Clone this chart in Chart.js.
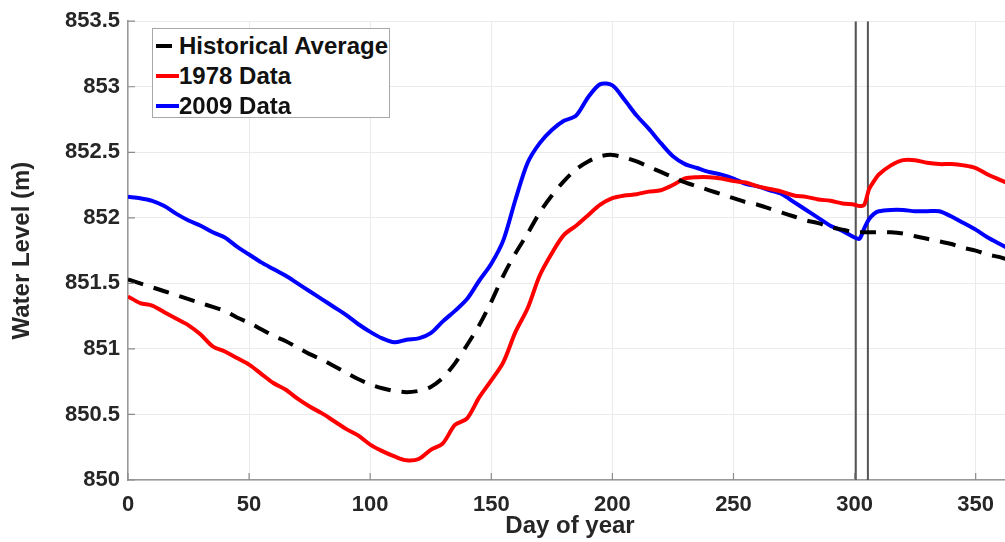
<!DOCTYPE html>
<html>
<head>
<meta charset="utf-8">
<title>Water Level</title>
<script src="https://cdn.jsdelivr.net/npm/chart.js"></script>
<style>
  html, body { margin: 0; padding: 0; background: #fff; overflow: hidden; }
  #wrap { position: relative; width: 1012px; height: 542px; }
  #legend {
    position: absolute; left: 152px; top: 28px; width: 236px; height: 88px;
    border: 1px solid #a8a8a8; background: #fff;
    font: bold 24px "Liberation Sans", Arial, sans-serif; color: #111;
  }
  #legend .row { position: absolute; left: 0; height: 30px; line-height: 30px; }
  #legend .swatch { position: absolute; top: 13px; height: 4px; }
  #legend .label { position: absolute; left: 26px; white-space: nowrap; }
</style>
</head>
<body>
<div id="wrap">
  <canvas id="chart" width="1012" height="542"></canvas>
  <div id="legend"></div>
</div>
<script>
// day of year
const days = [0,5,10,15,20,25,30,35,40,45,50,55,60,65,70,75,80,85,90,95,
  100,105,110,115,120,125,130,135,140,145,150,155,160,165,170,175,180,185,190,195,
  200,205,210,215,220,225,230,235,240,245,250,255,260,265,270,275,280,285,290,295,
  300,302,304,306,308,310,315,320,325,330,335,340,345,350,355,360,365];

// water level (m)
const histAvg = [851.53,851.50,851.47,851.44,851.41,851.38,851.35,851.32,851.29,851.24,
  851.20,851.15,851.10,851.06,851.01,850.96,850.92,850.87,850.82,850.77,
  850.73,850.70,850.68,850.67,850.68,850.71,850.78,850.89,851.03,851.18,
  851.36,851.56,851.73,851.88,852.04,852.17,852.28,852.37,852.43,852.47,
  852.48,852.46,852.43,852.39,852.35,852.31,852.27,852.24,852.21,852.18,
  852.15,852.12,852.10,852.07,852.04,852.01,851.98,851.96,851.93,851.91,
  851.89,851.89,851.89,851.89,851.89,851.89,851.89,851.88,851.86,851.84,
  851.82,851.80,851.77,851.75,851.72,851.70,851.67];

const data1978 = [851.40,851.35,851.33,851.28,851.23,851.18,851.11,851.02,850.98,850.93,
  850.88,850.81,850.74,850.69,850.62,850.56,850.51,850.45,850.39,850.34,
  850.27,850.22,850.18,850.15,850.16,850.23,850.28,850.42,850.47,850.63,
  850.76,850.90,851.13,851.31,851.56,851.73,851.87,851.94,852.02,852.10,
  852.15,852.17,852.18,852.20,852.21,852.25,852.30,852.31,852.31,852.30,
  852.28,852.27,852.24,852.22,852.20,852.17,852.16,852.14,852.13,852.11,
  852.10,852.09,852.10,852.22,852.28,852.33,852.40,852.44,852.44,852.42,
  852.41,852.41,852.40,852.38,852.33,852.29,852.25];

const data2009 = [852.16,852.15,852.13,852.09,852.03,851.98,851.94,851.89,851.85,851.78,
  851.72,851.66,851.61,851.56,851.50,851.44,851.38,851.32,851.26,851.19,
  851.13,851.08,851.05,851.07,851.08,851.12,851.21,851.29,851.38,851.52,
  851.65,851.83,852.14,852.42,852.57,852.67,852.74,852.78,852.92,853.02,
  853.01,852.90,852.78,852.68,852.57,852.47,852.41,852.38,852.35,852.33,
  852.30,852.26,852.24,852.21,852.18,852.12,852.06,852.00,851.94,851.90,
  851.85,851.84,851.92,851.99,852.03,852.05,852.06,852.06,852.05,852.05,
  852.05,852.01,851.96,851.91,851.85,851.80,851.75];

// vertical marker lines (day of year)
const markerDays = [300.5, 305.5];

const xTicks = [0, 50, 100, 150, 200, 250, 300, 350];
const yMin = 850, yMax = 853.5;

const series = [
  { label: 'Historical Average', values: histAvg, color: '#000000', dash: [16, 11] },
  { label: '1978 Data', values: data1978, color: '#ff0000', dash: [] },
  { label: '2009 Data', values: data2009, color: '#0000ff', dash: [] }
];

const datasets = series.map(s => ({
  label: s.label,
  data: days.map((d, i) => ({ x: d, y: s.values[i] })),
  borderColor: s.color,
  borderWidth: 4,
  borderDash: s.dash,
  pointRadius: 0,
  tension: 0.3,
  fill: false
}));

markerDays.forEach(d => {
  datasets.push({
    label: 'marker',
    data: [{ x: d, y: yMin }, { x: d, y: yMax }],
    borderColor: '#555555',
    borderWidth: 2,
    pointRadius: 0,
    fill: false
  });
});

// small inward tick marks like MATLAB axes
const innerTicks = {
  id: 'innerTicks',
  afterDraw(chart) {
    const ctx = chart.ctx, x = chart.scales.x, y = chart.scales.y;
    const a = chart.chartArea;
    ctx.save();
    ctx.strokeStyle = '#8c8c8c';
    ctx.lineWidth = 1.2;
    ctx.beginPath();
    xTicks.forEach(v => {
      const px = x.getPixelForValue(v);
      ctx.moveTo(px, a.bottom); ctx.lineTo(px, a.bottom - 7);
    });
    y.ticks.forEach(t => {
      const py = y.getPixelForValue(t.value);
      ctx.moveTo(a.left, py); ctx.lineTo(a.left + 7, py);
    });
    ctx.stroke();
    ctx.restore();
  }
};

const tickFont = { family: '"Liberation Sans", Arial, sans-serif', size: 22, weight: 'bold' };
const titleFont = { family: '"Liberation Sans", Arial, sans-serif', size: 24, weight: 'bold', lineHeight: 1.2 };

new Chart(document.getElementById('chart'), {
  type: 'line',
  data: { datasets },
  options: {
    responsive: false,
    animation: false,
    layout: { padding: { top: 18, left: 0, right: 0, bottom: 0 } },
    plugins: { legend: { display: false }, tooltip: { enabled: false } },
    scales: {
      x: {
        type: 'linear', min: 0, max: 365,
        afterBuildTicks: s => { s.ticks = xTicks.map(v => ({ value: v })); },
        afterFit: s => { s.height = 62; },
        ticks: { font: tickFont, color: '#262626', padding: 12, maxRotation: 0 },
        grid: { color: '#ebebeb', drawTicks: false },
        border: { display: true, color: '#999999', width: 1.5 },
        title: { display: true, text: 'Day of year', font: titleFont, color: '#262626', padding: { top: 0, bottom: 1 } }
      },
      y: {
        min: yMin, max: yMax,
        afterFit: s => { s.width = 128; },
        ticks: {
          stepSize: 0.5, font: tickFont, color: '#262626', padding: 8,
          callback: v => String(+v.toFixed(1))
        },
        grid: { color: '#ebebeb', drawTicks: false },
        border: { display: true, color: '#999999', width: 1.5 },
        title: { display: true, text: 'Water Level (m)', font: titleFont, color: '#262626', padding: { top: 8, bottom: 0 } }
      }
    }
  },
  plugins: [innerTicks]
});

// legend box inside the axes
const legend = document.getElementById('legend');
series.forEach((s, i) => {
  const row = document.createElement('div');
  row.className = 'row';
  row.style.top = (2 + i * 30) + 'px';
  row.style.width = '100%';
  const sw = document.createElement('div');
  sw.className = 'swatch';
  sw.style.background = s.color;
  sw.style.left = '3px';
  sw.style.width = s.dash.length ? '16px' : '23px';
  const lb = document.createElement('div');
  lb.className = 'label';
  lb.textContent = s.label;
  row.appendChild(sw);
  row.appendChild(lb);
  legend.appendChild(row);
});
</script>
</body>
</html>
